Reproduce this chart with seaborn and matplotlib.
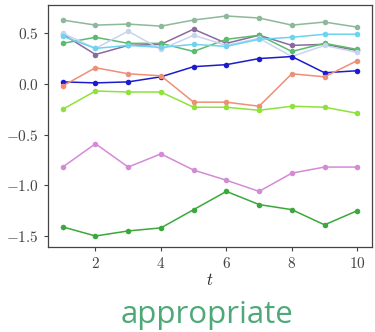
import pandas as pd
import matplotlib
matplotlib.use("Agg")
import matplotlib.pyplot as plt
import seaborn as sns

# data
t = [1, 2, 3, 4, 5, 6, 7, 8, 9, 10]
s_top = [0.63, 0.58, 0.59, 0.57, 0.63, 0.67, 0.65, 0.58, 0.61, 0.56]
s_purple = [0.49, 0.29, 0.38, 0.39, 0.54, 0.40, 0.48, 0.38, 0.39, 0.33]
s_green = [0.40, 0.46, 0.40, 0.40, 0.32, 0.44, 0.48, 0.32, 0.40, 0.34]
s_pale = [0.50, 0.35, 0.52, 0.34, 0.48, 0.38, 0.45, 0.27, 0.38, 0.31]
s_cyan = [0.47, 0.35, 0.38, 0.36, 0.39, 0.37, 0.44, 0.46, 0.49, 0.49]
s_blue = [0.02, 0.01, 0.02, 0.07, 0.17, 0.19, 0.25, 0.27, 0.11, 0.13]
s_salmon = [-0.02, 0.16, 0.10, 0.08, -0.18, -0.18, -0.22, 0.10, 0.07, 0.23]
s_lime = [-0.25, -0.07, -0.08, -0.08, -0.23, -0.23, -0.26, -0.22, -0.23, -0.29]
s_orchid = [-0.82, -0.59, -0.82, -0.69, -0.85, -0.95, -1.06, -0.88, -0.82, -0.82]
s_dkgreen = [-1.41, -1.50, -1.45, -1.42, -1.24, -1.06, -1.19, -1.24, -1.39, -1.25]

series = {
    "top": s_top, "purple": s_purple, "green": s_green, "pale": s_pale,
    "cyan": s_cyan, "blue": s_blue, "salmon": s_salmon, "lime": s_lime,
    "orchid": s_orchid, "dkgreen": s_dkgreen,
}
colors = {
    "top": "#8db89a", "purple": "#8a6a9e", "green": "#5dbb6e", "pale": "#c5d5f0",
    "cyan": "#6dd3ee", "blue": "#1c1ccc", "salmon": "#ee8f78", "lime": "#8ee23a",
    "orchid": "#d58ad6", "dkgreen": "#3aa83a",
}

rows = []
for name, vals in series.items():
    for x, v in zip(t, vals):
        rows.append({"t": x, "value": v, "series": name})
df = pd.DataFrame(rows)

sns.set_style("ticks")
plt.rcParams["mathtext.fontset"] = "cm"
plt.rcParams["axes.formatter.use_mathtext"] = True
plt.rcParams["font.family"] = ["DejaVu Serif"]

fig = plt.figure(figsize=(3.75, 3.32), dpi=100)
ax = fig.add_axes([0.128, 0.256, 0.864, 0.729])

sns.lineplot(data=df, x="t", y="value", hue="series", palette=colors,
             marker="o", markersize=4, markeredgewidth=0, linewidth=1.1,
             legend=False, ax=ax)

ax.set_xticks([2, 4, 6, 8, 10])
ax.set_yticks([0.5, 0.0, -0.5, -1.0, -1.5])
ax.set_xticklabels([f"${v}$" for v in [2, 4, 6, 8, 10]])
ax.set_yticklabels(["$0.5$", "$0.0$", "$-0.5$", "$-1.0$", "$-1.5$"])
ax.tick_params(labelsize=11, length=3, width=0.8, colors="#444444")
ax.set_xlabel("$t$", fontsize=12, labelpad=1)
ax.set_ylabel("")
for sp in ax.spines.values():
    sp.set_color("#444444")
    sp.set_linewidth(0.9)

fig.text(0.552, 0.026, "appropriate", ha="center", va="baseline",
         fontsize=22.5, color="#4fa878", family=["Open Sans", "DejaVu Sans"])

fig.savefig("out.png", dpi=100)
